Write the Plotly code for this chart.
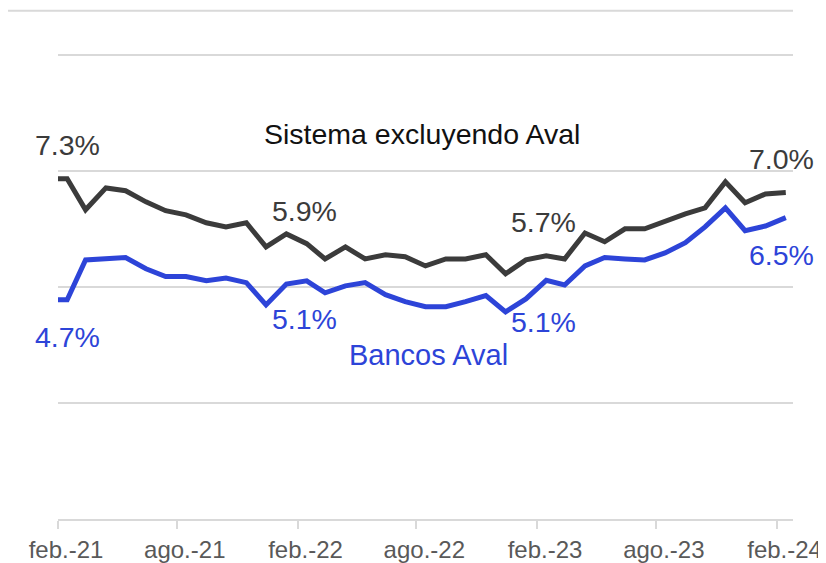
import plotly.graph_objects as go

# Meses (dato a mitad de mes); enero-21 solo sirve de arranque, queda fuera del rango
meses = ['2021-01-15', '2021-02-15', '2021-03-15', '2021-04-15', '2021-05-15', '2021-06-15',
         '2021-07-15', '2021-08-15', '2021-09-15', '2021-10-15', '2021-11-15', '2021-12-15',
         '2022-01-15', '2022-02-15', '2022-03-15', '2022-04-15', '2022-05-15', '2022-06-15',
         '2022-07-15', '2022-08-15', '2022-09-15', '2022-10-15', '2022-11-15', '2022-12-15',
         '2023-01-15', '2023-02-15', '2023-03-15', '2023-04-15', '2023-05-15', '2023-06-15',
         '2023-07-15', '2023-08-15', '2023-09-15', '2023-10-15', '2023-11-15', '2023-12-15',
         '2024-01-15', '2024-02-15']

sistema = [7.33, 7.33, 6.66, 7.13, 7.07, 6.83, 6.64, 6.55, 6.38, 6.29, 6.38, 5.86, 6.14,
           5.93, 5.60, 5.86, 5.60, 5.69, 5.65, 5.45, 5.60, 5.60, 5.69, 5.28, 5.58,
           5.67, 5.60, 6.16, 5.97, 6.25, 6.25, 6.42, 6.57, 6.70, 7.26, 6.81, 7.00, 7.03]

aval = [4.72, 4.72, 5.58, 5.60, 5.63, 5.39, 5.22, 5.22, 5.13, 5.19, 5.09, 4.61, 5.06,
        5.13, 4.87, 5.02, 5.09, 4.83, 4.68, 4.57, 4.57, 4.68, 4.81, 4.46, 4.74,
        5.14, 5.04, 5.45, 5.63, 5.60, 5.58, 5.73, 5.95, 6.29, 6.70, 6.21, 6.31, 6.49]

tick_fechas = ['2021-02-01', '2021-08-01', '2022-02-01', '2022-08-01',
               '2023-02-01', '2023-08-01', '2024-02-01']
tick_textos = ['feb.-21', 'ago.-21', 'feb.-22', 'ago.-22', 'feb.-23', 'ago.-23', 'feb.-24']

# puntos etiquetados: indice en las listas
etiquetas = [1, 13, 25, 37]
desplaz_sistema = [34, 33, 34, 34]
desplaz_aval = [-37, -38, -42, -37]
desplaz_x = [0, -2, -3, -4]

GRIS = '#3b3b3b'
AZUL = '#2d44d8'
FUENTE = 'Liberation Sans, Arial, sans-serif'

fig = go.Figure()
fig.add_trace(go.Scatter(x=meses, y=sistema, mode='lines',
                         line=dict(color=GRIS, width=5), name='Sistema excluyendo Aval'))
fig.add_trace(go.Scatter(x=meses, y=aval, mode='lines',
                         line=dict(color=AZUL, width=5), name='Bancos Aval'))

# etiquetas de valores
for n, i in enumerate(etiquetas):
    fig.add_annotation(x=meses[i], y=sistema[i], text=f'{sistema[i]:.1f}%', showarrow=False,
                       yshift=desplaz_sistema[n], xshift=desplaz_x[n],
                       font=dict(size=28.5, color=GRIS))
    fig.add_annotation(x=meses[i], y=aval[i], text=f'{aval[i]:.1f}%', showarrow=False,
                       yshift=desplaz_aval[n], xshift=desplaz_x[n],
                       font=dict(size=28.5, color=AZUL))

# nombres de las series
fig.add_annotation(x='2022-08-10', y=sistema[19], text='Sistema excluyendo Aval', showarrow=False,
                   yshift=132, font=dict(size=28.5, color='#111111'))
fig.add_annotation(x='2022-08-20', y=aval[19], text='Bancos Aval', showarrow=False,
                   yshift=-48, font=dict(size=29, color=AZUL))

# linea superior decorativa
fig.add_shape(type='line', xref='paper', yref='paper', x0=-0.068, x1=1, y0=1.0838, y1=1.0838,
              line=dict(color='#d9d9d9', width=2))

# la pagina deja 8px de margen al cuerpo: se compensa en el tamano y margenes
fig.update_layout(
    width=818, height=555,
    margin=dict(l=50, r=33, t=42, b=44),
    plot_bgcolor='white', paper_bgcolor='white',
    showlegend=False,
    font=dict(family=FUENTE),
)
fig.update_xaxes(
    range=['2021-02-01', '2024-02-26'],
    tickvals=tick_fechas, ticktext=tick_textos, ticklabelshift=8,
    showgrid=False, ticks='outside', ticklen=8, tickcolor='#d9d9d9', tickwidth=1.5,
    showline=True, linecolor='#d9d9d9', linewidth=2,
    tickfont=dict(size=24, color='#595959'), zeroline=False, automargin=False,
)
fig.update_yaxes(
    range=[0, 10.1], tickvals=[0, 2.5, 5, 7.5, 10], showticklabels=False,
    showgrid=True, gridcolor='#d9d9d9', gridwidth=2, zeroline=False, automargin=False,
)

fig.write_html('out.html')
